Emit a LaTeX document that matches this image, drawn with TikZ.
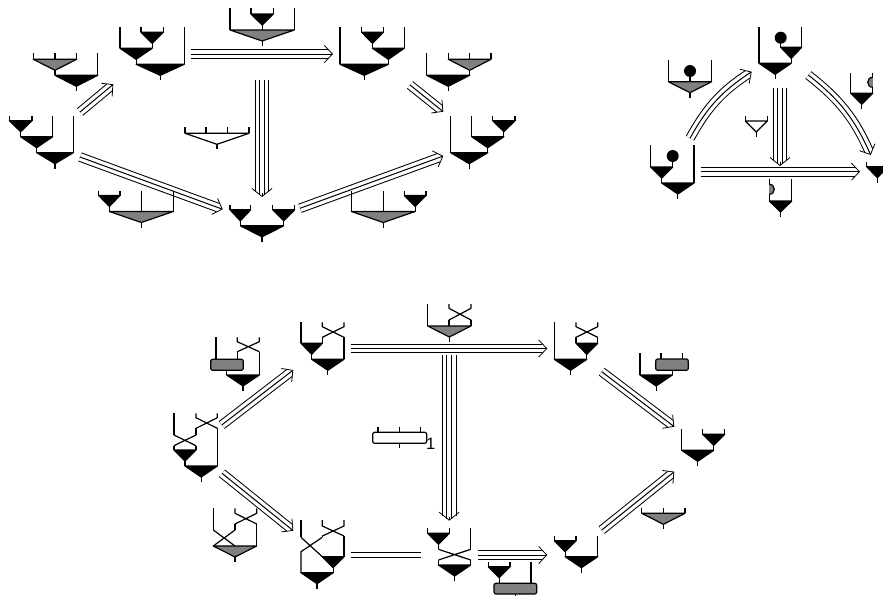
\documentclass[tikz,border=0pt]{standalone}
\usepackage{fontspec}
\usepackage{tikz}
\usetikzlibrary{arrows.meta}
\setsansfont{Liberation Sans}
\definecolor{grisM}{HTML}{808080}
\tikzset{
  wire/.style={line width=1.2pt,line join=round},
  arrowThree/.style={line width=1pt,-{Straight Barb[length=8pt,width=17pt,line width=.8pt]},
    preaction={draw,-,line width=9.6pt,shorten >=5pt},
    preaction={draw=white,-,line width=7.6pt,shorten >=4pt}},
  arrowFour/.style={line width=1pt,-{Straight Barb[length=8pt,width=20pt,line width=.8pt]},
    preaction={draw,-,line width=14.6pt,shorten >=5pt},
    preaction={draw=white,-,line width=12.6pt,shorten >=4pt},
    preaction={draw,-,line width=5.6pt,shorten >=2pt},
    preaction={draw=white,-,line width=3.6pt,shorten >=2pt},
    postaction={draw=white,-,line width=3.6pt,shorten >=4pt}},
  arrowTwo/.style={line width=1pt,double,double distance=4pt}
}
% triangle with its stem and the two legs above it
\newcommand{\mulTri}[6][black]{%
  \pgfmathsetmacro{\xm}{(#2+#3)/2}
  \draw[wire] (#2,#4) -- (#2,#4-#5) (#3,#4) -- (#3,#4-#6) (\xm,#4+11) -- (\xm,#4+16);
  \draw[wire,fill=#1] (#2,#4) -- (#3,#4) -- (\xm,#4+11) -- cycle;
}
\newcommand{\leg}[3]{\draw[wire] (#1,#2) -- (#1,#3);}
\newcommand{\braid}[5]{\draw[wire] (#1,#3) -- (#1,#4) -- (#2,#5) (#2,#3) -- (#2,#4) -- (#1,#5);}
\newcommand{\ballOn}[3]{\fill (#1,#2) circle (6); \leg{#1}{#2}{#3}}
\newcommand{\boxF}[5][grisM]{\draw[wire,fill=#1,rounded corners=2pt] (#2,#4) rectangle (#3,#5);}
\newcommand{\halfL}[2]{\draw[wire,fill=grisM] (#1,#2-5) .. controls (#1-6.6,#2-5) and (#1-6.6,#2+5) .. (#1,#2+5);}
\newcommand{\halfR}[2]{\draw[wire,fill=grisM] (#1,#2-5) .. controls (#1+6.6,#2-5) and (#1+6.6,#2+5) .. (#1,#2+5);}

\begin{document}
\begin{tikzpicture}[x=1pt,y=-1pt]
  \useasboundingbox (0,0) rectangle (883,595);
  % extremos de las flechas
  \coordinate (aOut1) at (80,112);    \coordinate (bIn) at (113.3,84.3);
  \coordinate (aOut2) at (80,157);    \coordinate (gIn1) at (222.7,209.3);
  \coordinate (bOut) at (191,54);     \coordinate (dIn) at (333,54);
  \coordinate (cOut) at (262,80);     \coordinate (gIn2) at (262,197);
  \coordinate (dOut) at (410,85);     \coordinate (fIn1) at (443.3,111.7);
  \coordinate (gOut) at (300,208.3);  \coordinate (fIn2) at (443.3,156);
  \coordinate (kOut1) at (690,138.3); \coordinate (mIn) at (751.7,71.7);
  \coordinate (mOut1) at (808.3,75);  \coordinate (oIn1) at (870.7,155);
  \coordinate (mOut2) at (780,87.7);  \coordinate (pIn) at (780,166);
  \coordinate (kOut2) at (701,171.7); \coordinate (oIn2) at (860,171.7);
  \coordinate (rOut1) at (221.7,425); \coordinate (sIn) at (293.3,370);
  \coordinate (rOut2) at (222,473.3); \coordinate (tIn) at (293.3,530.7);
  \coordinate (sOut) at (351,348.5);  \coordinate (uIn) at (547.3,348.5);
  \coordinate (vOut) at (449.2,355);  \coordinate (vIn) at (449.2,520.7);
  \coordinate (tOut) at (350.7,555);  \coordinate (vLeft) at (420.7,555);
  \coordinate (vRight) at (477.7,555);\coordinate (wIn) at (547.3,555);
  \coordinate (uOut) at (601.7,371.7);\coordinate (zIn1) at (674.3,426.7);
  \coordinate (wOut) at (601.7,530);  \coordinate (zIn2) at (674.3,471.7);
  % flechas
  \draw[arrowThree] (aOut1) -- (bIn);
  \draw[arrowThree] (aOut2) -- (gIn1);
  \draw[arrowThree] (bOut) -- (dIn);
  \draw[arrowFour] (cOut) -- (gIn2);
  \draw[arrowThree] (dOut) -- (fIn1);
  \draw[arrowThree] (gOut) -- (fIn2);
  \draw[arrowThree] (kOut1) to[bend left=14] (mIn);
  \draw[arrowThree] (mOut1) to[bend left=14] (oIn1);
  \draw[arrowFour] (mOut2) -- (pIn);
  \draw[arrowThree] (kOut2) -- (oIn2);
  \draw[arrowThree] (rOut1) -- (sIn);
  \draw[arrowThree] (rOut2) -- (tIn);
  \draw[arrowThree] (sOut) -- (uIn);
  \draw[arrowFour] (vOut) -- (vIn);
  \draw[arrowTwo] (tOut) -- (vLeft);
  \draw[arrowThree] (vRight) -- (wIn);
  \draw[arrowThree] (uOut) -- (zIn1);
  \draw[arrowThree] (wOut) -- (zIn2);
  % arriba a la izquierda
  \mulTri{9.3}{32}{120.7}{5}{5}
  \mulTri{20.65}{52.7}{136.7}{0}{21}
  \mulTri{36.7}{73.3}{152.7}{0}{37}
  \mulTri[grisM]{33.3}{76.7}{59.3}{6}{6}
  \leg{55}{53.3}{59.3}
  \mulTri{55}{97.7}{75.3}{0}{22}
  \mulTri{141}{163.3}{32.3}{5.6}{5.6}
  \mulTri{120}{152.2}{48.3}{21.6}{0}
  \mulTri{136.1}{184.3}{64.3}{0}{37.6}
  \mulTri{251}{273.3}{14}{5.7}{5.7}
  \mulTri[grisM]{230}{294.3}{30}{21.7}{21.7}
  \mulTri{361.7}{383.3}{32.3}{5.6}{5.6}
  \mulTri{372.5}{404.3}{48.3}{0}{21.6}
  \mulTri{340}{388.4}{64.3}{37.6}{0}
  \mulTri[grisM]{448.3}{491}{59.3}{6}{6}
  \leg{469.7}{53.3}{59.3}
  \mulTri{426.7}{469.7}{75.3}{22}{0}
  \mulTri{492.7}{515}{120.7}{5}{5}
  \mulTri{471.7}{503.85}{136.7}{21}{0}
  \mulTri{450.7}{487.8}{152.7}{37}{0}
  \mulTri{230}{250.7}{209.8}{5}{5}
  \mulTri{272.7}{294.7}{209.8}{5}{5}
  \mulTri{240.35}{283.7}{225.8}{0}{0}
  \mulTri{98.7}{120}{195.5}{5}{5}
  \mulTri[grisM]{109.35}{173.3}{211.5}{0}{21}
  \leg{141.3}{190.5}{211.5}
  \mulTri[grisM]{351.3}{415.15}{211.5}{21}{0}
  \leg{383.2}{190.5}{211.5}
  \mulTri{404.3}{426}{195.5}{5}{5}
  \mulTri[white]{185}{249}{133.3}{6}{6}
  \leg{206}{127.3}{133.3}
  \leg{227.3}{127.3}{133.3}
  % arriba a la derecha
  \ballOn{672.7}{156}{167}
  \mulTri{650.7}{672.7}{167}{22}{0}
  \mulTri{661.7}{694}{183}{0}{38}
  \mulTri[grisM]{668.3}{711.7}{81.7}{21.7}{21.7}
  \ballOn{690}{71}{81.7}
  \mulTri{780.7}{801.7}{47.3}{0}{20.6}
  \ballOn{780.7}{37.7}{47.3}
  \mulTri{759}{791.2}{63.3}{36.6}{0}
  \mulTri{850.7}{872.7}{93.3}{20.6}{20.6}
  \halfL{872.7}{82.3}
  \mulTri{866.7}{888}{166.7}{5}{5}
  \mulTri{769.3}{791.7}{201}{21.7}{21.7}
  \halfR{769.3}{189.3}
  \mulTri[white]{745.3}{767.3}{121}{5}{5}
  % abajo
  \braid{196}{217.3}{413.3}{417.7}{428.3}
  \leg{174}{413.3}{435}
  \leg{196}{428.3}{435}
  \braid{174}{196}{435}{435}{445.7}
  \mulTri{174}{196}{450}{4.3}{4.3}
  \mulTri{185}{217.3}{466}{0}{37.7}
  \braid{322.3}{344}{322.3}{326.7}{337.3}
  \mulTri{301}{322.3}{343.3}{21}{6}
  \mulTri{311.65}{344}{359.3}{0}{22}
  \leg{216}{337.3}{359.3}
  \braid{237.3}{259.3}{337.3}{341.7}{351.7}
  \leg{237.3}{351.7}{359.3}
  \boxF{210.7}{243.3}{359.3}{370.3}
  \leg{226.7}{370.3}{375}
  \mulTri{226.7}{259.3}{375}{0}{23.3}
  \braid{449}{471}{304}{308.3}{320}
  \mulTri[grisM]{427.7}{471}{326}{22}{6}
  \leg{449}{320}{326}
  \braid{576}{597.7}{322.3}{326.7}{337.3}
  \mulTri{576}{597.7}{343.3}{6}{6}
  \mulTri{554.3}{586.85}{359.3}{37}{0}
  \boxF{655.7}{688.3}{359}{370.3}
  \leg{661}{353.3}{359}
  \leg{682.7}{353.3}{359}
  \leg{672.3}{370.3}{375}
  \mulTri{640}{672.3}{375}{21.7}{0}
  \mulTri{702.7}{724.7}{434.3}{5}{5}
  \mulTri{681.7}{713.7}{450.3}{21}{0}
  \boxF[white]{372.7}{426.7}{432.3}{443.3}
  \leg{378}{426.7}{432.3}
  \leg{399.3}{426.7}{432.3}
  \leg{420.7}{426.7}{432.3}
  \leg{399.3}{443.3}{448.3}
  \node[font=\sffamily\fontsize{16.5}{17}\selectfont,inner sep=0pt] (indexOne) at (430.7,444.3) {1};
  \leg{301}{520}{537.3}
  \braid{322.3}{344}{520}{526}{536}
  \leg{322.3}{536}{537.3}
  \draw[wire] (301,537.3) -- (322.3,556.7) (322.3,537.3) -- (301,551.7) -- (301,573);
  \mulTri{322.3}{344}{556.7}{0}{20.7}
  \mulTri{301}{333.15}{572.7}{0}{0}
  \leg{213.3}{508.3}{530}
  \braid{235}{256.7}{508.3}{513.3}{524}
  \leg{235}{524}{530}
  \braid{213.3}{235}{530}{530}{546}
  \mulTri[grisM]{213.3}{256.7}{546}{0}{22}
  \mulTri{427.7}{449.3}{533.3}{5}{5}
  \leg{470.7}{528.3}{549.3}
  \braid{438.5}{470.7}{549.3}{549.3}{560}
  \mulTri{438.5}{470.7}{565}{5}{5}
  \mulTri{488.3}{510}{566.7}{5}{5}
  \leg{531}{561.7}{583.3}
  \boxF{494}{536.7}{583.3}{594}
  \leg{515.3}{594}{598}
  \mulTri{554.3}{576}{540.7}{5}{5}
  \mulTri{565.15}{597.7}{556.7}{0}{21}
  \mulTri[grisM]{641.7}{685}{513.3}{5}{5}
  \leg{663.3}{508.3}{513.3}
\end{tikzpicture}
\end{document}
